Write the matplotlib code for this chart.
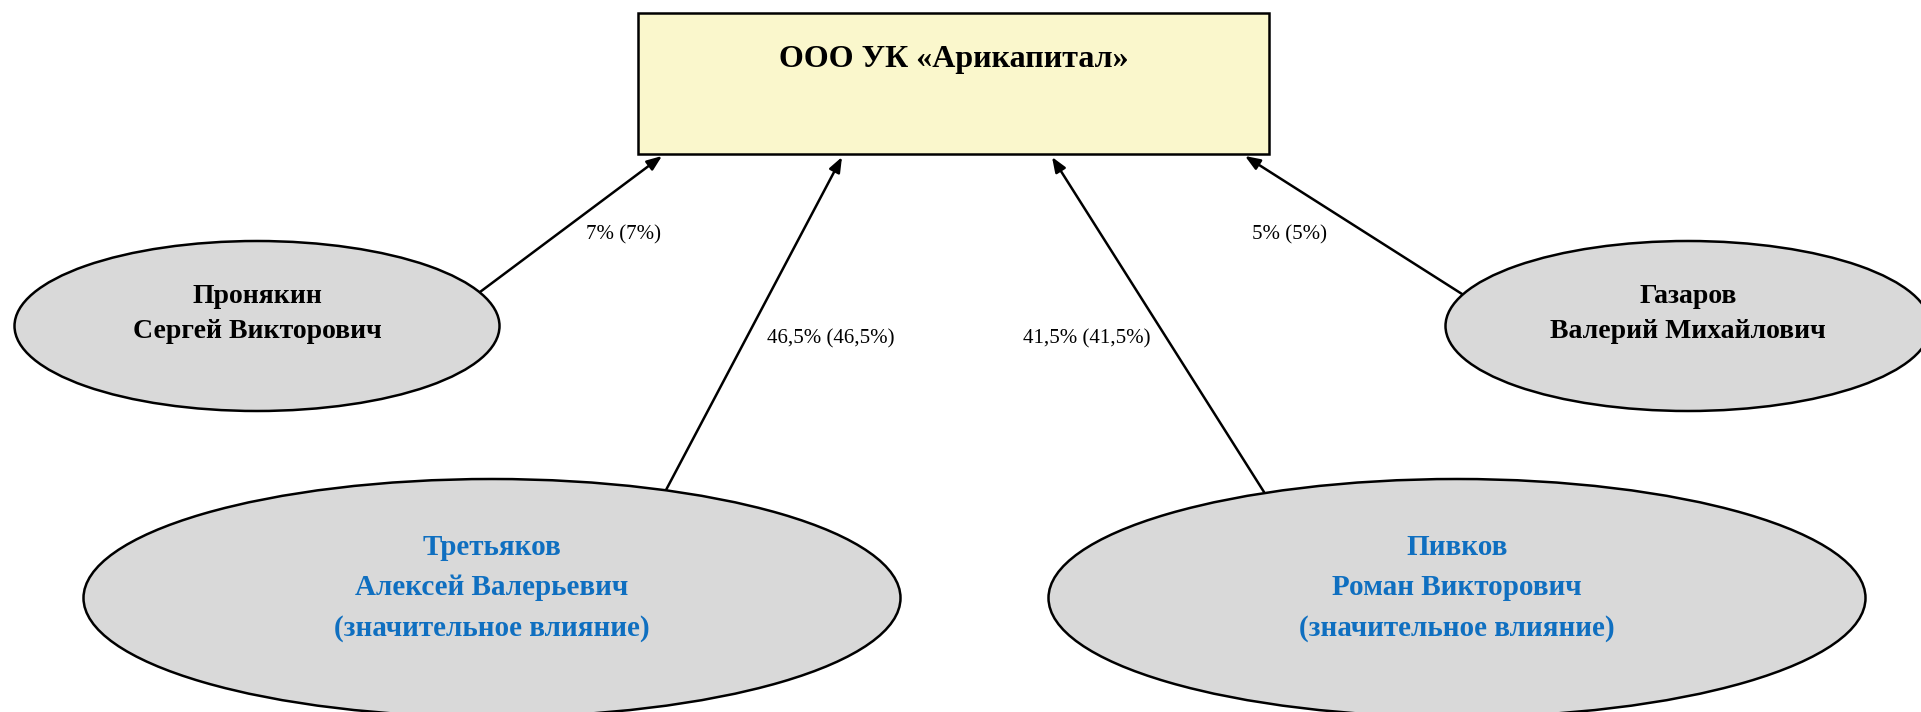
import matplotlib
matplotlib.use("Agg")
import matplotlib.pyplot as plt
from matplotlib.patches import Ellipse, Rectangle

# ---- data ----
company = "ООО УК «Арикапитал»"
owners = ["Пронякин\nСергей Викторович",
          "Третьяков\nАлексей Валерьевич\n(значительное влияние)",
          "Пивков\nРоман Викторович\n(значительное влияние)",
          "Газаров\nВалерий Михайлович"]
shares = [7, 46.5, 41.5, 5]
significant = [False, True, True, False]

# ---- layout (pixel coordinates, y downward) ----
W, H = 1921, 712
box = (638, 13, 631, 141)  # x, y, w, h
ell = [(257, 326, 485, 170), (492, 598, 817, 238), (1457, 598, 817, 238), (1688, 326, 485, 170)]
arrow_start = [(480, 292), (666, 490), (1264, 492), (1462, 294)]
arrow_end = [(662, 156), (842, 157), (1052, 157), (1245, 156)]
label_pos = [(624, 235), (831, 339), (1087, 339), (1290, 235)]

fig = plt.figure(figsize=(W / 100, H / 100), dpi=100)
ax = fig.add_axes([0, 0, 1, 1])
ax.set_xlim(0, W)
ax.set_ylim(H, 0)
ax.axis("off")

serif = ["Liberation Serif", "DejaVu Serif"]

ax.add_patch(Rectangle((box[0], box[1]), box[2], box[3], facecolor="#faf7cc",
                       edgecolor="black", lw=1.8, zorder=2))
ax.text(box[0] + box[2] / 2, 60, company, ha="center", va="center",
        fontsize=23, fontweight="bold", family=serif, color="black", zorder=3)

for i, name in enumerate(owners):
    cx, cy, ew, eh = ell[i]
    ax.add_patch(Ellipse((cx, cy), ew, eh, facecolor="#d9d9d9", edgecolor="black",
                         lw=1.8, zorder=2))
    if significant[i]:
        ax.text(cx, cy - 10, name, ha="center", va="center",
                fontsize=21, fontweight="bold", family=serif, color="#0f6fc0",
                linespacing=1.62, zorder=3)
    else:
        ax.text(cx, cy - 12, name, ha="center", va="center",
                fontsize=20, fontweight="bold", family=serif, color="black",
                linespacing=1.5, zorder=3)
    ax.annotate("", xy=arrow_end[i], xytext=arrow_start[i],
                arrowprops=dict(arrowstyle="-|>,head_length=0.9,head_width=0.35",
                                color="black", lw=1.8, shrinkA=0, shrinkB=0),
                zorder=1)
    s = f"{shares[i]:g}%".replace(".", ",")
    ax.text(label_pos[i][0], label_pos[i][1], f"{s} ({s})", ha="center", va="center",
            fontsize=15, family=serif, color="black", zorder=3)

fig.savefig("out.png", dpi=100, facecolor="white")
